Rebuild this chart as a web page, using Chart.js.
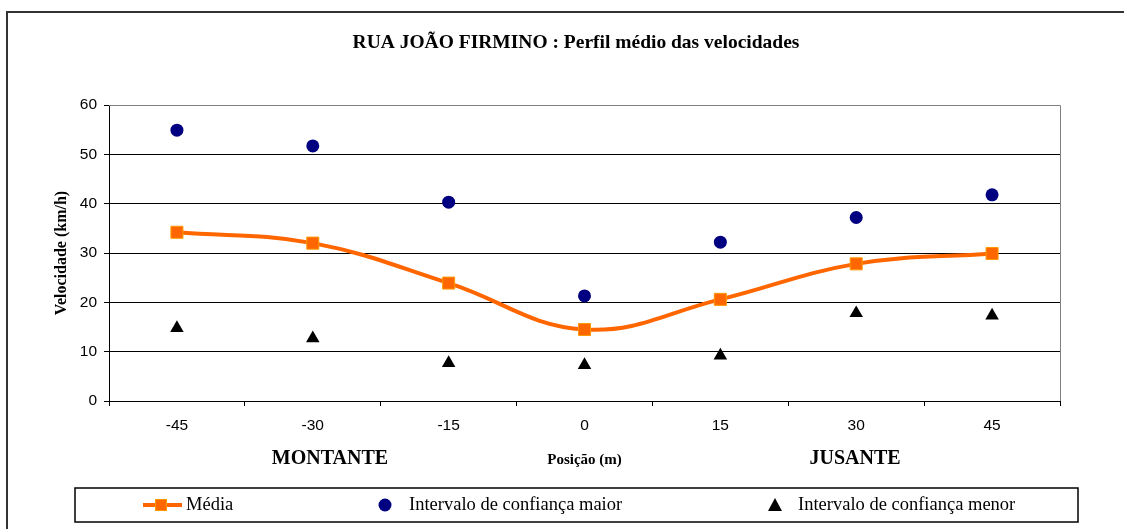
<!DOCTYPE html>
<html>
<head>
<meta charset="utf-8">
<script src="https://cdn.jsdelivr.net/npm/chart.js@4/dist/chart.umd.min.js"></script>
<style>
body {margin: 0; background: #fff;}
#box {width: 1124px; height: 529px;}
</style>
</head>
<body>
<div id="box"><canvas id="grafico" width="1124" height="529"></canvas></div>
<script>
// DADOS
const titulo = 'RUA JOÃO FIRMINO : Perfil médio das velocidades';
const posicoes = ['-45', '-30', '-15', '0', '15', '30', '45'];
const media = [34.2, 32.0, 23.9, 14.5, 20.6, 27.8, 29.9];
const icMaior = [54.9, 51.7, 40.3, 21.3, 32.2, 37.2, 41.8];
const icMenor = [14.8, 12.7, 7.7, 7.3, 9.2, 17.8, 17.3];
const yTicks = [0, 10, 20, 30, 40, 50, 60];

const LARANJA = '#FF6600';
const AZUL = '#000080';
const SERIF = '"Liberation Serif", "Times New Roman", serif';
const SANS = '"Liberation Sans", Arial, sans-serif';

// moldura, titulo, textos MONTANTE / JUSANTE e legenda
const extras = {
    id: 'extras',
    beforeDraw(chart) {
        const ctx = chart.ctx;
        ctx.save();
        ctx.strokeStyle = '#333';
        ctx.lineWidth = 2;
        ctx.beginPath();
        ctx.moveTo(7, 529);
        ctx.lineTo(7, 12);
        ctx.lineTo(1124, 12);
        ctx.stroke();

        ctx.fillStyle = '#000';
        ctx.font = 'bold 19.5px ' + SERIF;
        ctx.textAlign = 'center';
        ctx.textBaseline = 'middle';
        ctx.fillText(titulo, 576, 43);
        ctx.restore();
    },
    afterDatasetsDraw(chart) {
        const ctx = chart.ctx;
        const a = chart.chartArea;
        ctx.save();
        // borda cinza da area do grafico
        ctx.strokeStyle = '#808080';
        ctx.lineWidth = 1;
        ctx.beginPath();
        ctx.moveTo(a.left, a.top + 0.5);
        ctx.lineTo(a.right + 0.5, a.top + 0.5);
        ctx.lineTo(a.right + 0.5, a.bottom);
        ctx.stroke();

        ctx.fillStyle = '#000';
        ctx.font = 'bold 20px ' + SERIF;
        ctx.textAlign = 'center';
        ctx.textBaseline = 'middle';
        ctx.fillText('MONTANTE', 330, 459);
        ctx.fillText('JUSANTE', 855, 459);

        // legenda
        ctx.strokeStyle = '#000';
        ctx.lineWidth = 1.5;
        ctx.strokeRect(75, 488, 1003, 34);
        const ly = 505;
        const ds = chart.data.datasets;
        ctx.font = '18.5px ' + SERIF;
        ctx.textAlign = 'left';

        ctx.strokeStyle = LARANJA;
        ctx.lineWidth = 4;
        ctx.beginPath();
        ctx.moveTo(143, ly);
        ctx.lineTo(182, ly);
        ctx.stroke();
        ctx.fillStyle = LARANJA;
        ctx.fillRect(155, ly - 6, 12, 12);
        ctx.strokeStyle = '#FF9900';
        ctx.lineWidth = 1;
        ctx.strokeRect(155.5, ly - 5.5, 11, 11);
        ctx.fillStyle = '#000';
        ctx.fillText(ds[0].label, 186, ly);

        ctx.fillStyle = AZUL;
        ctx.beginPath();
        ctx.arc(385, ly, 6.5, 0, Math.PI * 2);
        ctx.fill();
        ctx.fillStyle = '#000';
        ctx.fillText(ds[1].label, 409, ly);

        ctx.beginPath();
        ctx.moveTo(775, ly - 7);
        ctx.lineTo(782, ly + 6);
        ctx.lineTo(768, ly + 6);
        ctx.closePath();
        ctx.fill();
        ctx.fillText(ds[2].label, 798, ly);
        ctx.restore();
    }
};

new Chart(document.getElementById('grafico'), {
    type: 'line',
    data: {
        labels: posicoes,
        datasets: [{
            label: 'Média',
            data: media,
            borderColor: LARANJA,
            borderWidth: 4,
            tension: 0.4,
            pointStyle: 'rect',
            pointRadius: 8.5,
            pointBackgroundColor: LARANJA,
            pointBorderColor: '#FF9900',
            pointBorderWidth: 1,
            order: 2
        }, {
            label: 'Intervalo de confiança maior',
            data: icMaior,
            showLine: false,
            pointStyle: 'circle',
            pointRadius: 6.5,
            pointBackgroundColor: AZUL,
            pointBorderColor: AZUL,
            pointBorderWidth: 0,
            order: 1
        }, {
            label: 'Intervalo de confiança menor',
            data: icMenor,
            showLine: false,
            pointStyle: 'triangle',
            pointRadius: 7.8,
            pointBackgroundColor: '#000',
            pointBorderColor: '#000',
            pointBorderWidth: 0,
            order: 1
        }]
    },
    options: {
        responsive: false,
        animation: false,
        layout: {padding: {top: 105, left: 0, right: 64, bottom: 53}},
        plugins: {
            legend: {display: false},
            tooltip: {enabled: false},
            title: {display: false}
        },
        scales: {
            x: {
                offset: true,
                afterFit: s => { s.height = 75; },
                grid: {display: true, offset: true, drawOnChartArea: false, drawTicks: true, tickLength: 5, color: '#000'},
                border: {display: true, color: '#000', width: 1},
                ticks: {color: '#000', font: {family: SANS, size: 15.5}, padding: 10, maxRotation: 0},
                title: {
                    display: true,
                    text: 'Posição (m)',
                    color: '#000',
                    font: {family: SERIF, size: 15, weight: 'bold'},
                    padding: {top: 0, bottom: 7}
                }
            },
            y: {
                min: 0,
                max: 60,
                afterFit: s => { s.width = 109; },
                afterBuildTicks: s => { s.ticks = yTicks.map(v => ({value: v})); },
                grid: {
                    color: c => (c.tick && c.tick.value === 60) ? '#808080' : '#000',
                    tickColor: '#000',
                    tickLength: 5,
                    lineWidth: 1
                },
                border: {display: true, color: '#000', width: 1},
                ticks: {color: '#000', font: {family: SANS, size: 15.5}, padding: 7},
                title: {
                    display: true,
                    text: 'Velocidade (km/h)',
                    color: '#000',
                    font: {family: SERIF, size: 16, weight: 'bold'},
                    padding: {top: 52, bottom: 0}
                }
            }
        }
    },
    plugins: [extras]
});
</script>
</body>
</html>
